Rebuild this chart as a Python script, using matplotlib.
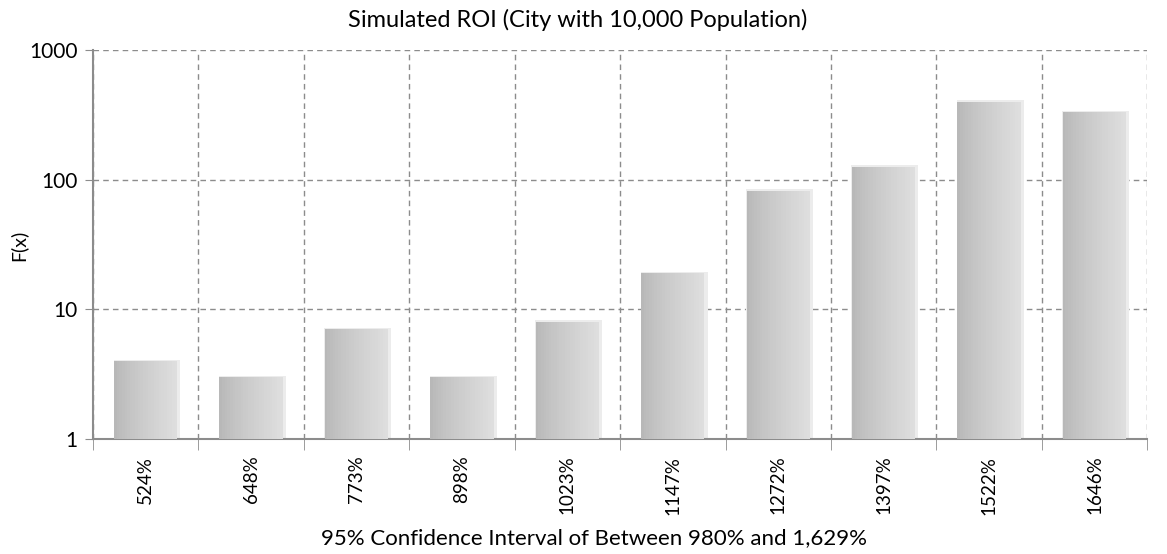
import numpy as np
import matplotlib.pyplot as plt
from matplotlib.ticker import FixedLocator, NullLocator

plt.rcParams['font.family'] = ['Lato', 'DejaVu Sans']

categories = ["524%", "648%", "773%", "898%", "1023%", "1147%", "1272%", "1397%", "1522%", "1646%"]
freq = [4, 3, 7, 3, 8, 19, 82, 125, 398, 331]

fig = plt.figure(figsize=(11.67, 5.54), dpi=100)
ax = fig.add_axes([0.0797, 0.2076, 0.9033, 0.7021])

x = np.arange(len(categories))
h = np.array(freq) - 1
width = 0.6
nstrip = 24
light = np.array([0.87, 0.87, 0.87])
dark = np.array([0.72, 0.72, 0.72])

# soft shadow
ax.bar(x + 0.012, h * 1.03, width=width + 0.035, bottom=1, color='#ececec', linewidth=0, zorder=2)
# gradient bars drawn as thin strips
for i in range(nstrip):
    t = i / (nstrip - 1)
    c = dark + (light - dark) * (t ** 0.8)
    off = -width / 2 + (i + 0.5) * width / nstrip
    ax.bar(x + off, h, width=width / nstrip * 1.05, bottom=1,
           color=c, linewidth=0, zorder=3)

ax.set_yscale('log')
ax.set_ylim(1, 1000)
ax.set_xlim(-0.5, len(categories) - 0.5)
ax.yaxis.set_major_locator(FixedLocator([1, 10, 100, 1000]))
ax.yaxis.set_minor_locator(NullLocator())
ax.set_yticklabels(['1', '10', '100', '1000'], fontsize=15)

ax.set_xticks(x)
ax.set_xticklabels(categories, rotation=90, fontsize=13.5)
ax.tick_params(axis='x', length=0, pad=12)
ax.set_xticks(np.arange(len(categories) + 1) - 0.5, minor=True)
ax.tick_params(axis='x', which='minor', length=8, color='#8c8c8c')
ax.tick_params(axis='y', length=6, color='#8c8c8c', pad=5)

ax.grid(True, axis='y', which='major', linestyle=(0, (4, 3)), color='#8c8c8c', linewidth=1)
ax.grid(True, axis='x', which='minor', linestyle=(0, (4, 3)), color='#8c8c8c', linewidth=1)
ax.set_axisbelow(True)

for s in ['top', 'right']:
    ax.spines[s].set_visible(False)
for s in ['left', 'bottom']:
    ax.spines[s].set_color('#8c8c8c')
    ax.spines[s].set_linewidth(1.5)

fig.text(578 / 1167, 1 - 20 / 554, 'Simulated ROI (City with 10,000 Population)',
         fontsize=17, ha='center', va='center')
fig.text(594 / 1167, 1 - 538 / 554, '95% Confidence Interval of Between 980% and 1,629%',
         fontsize=16, ha='center', va='center')
fig.text(18 / 1167, 1 - 245 / 554, 'F(x)', fontsize=14, rotation=90, ha='center', va='center')

fig.savefig('out.png', dpi=100)
